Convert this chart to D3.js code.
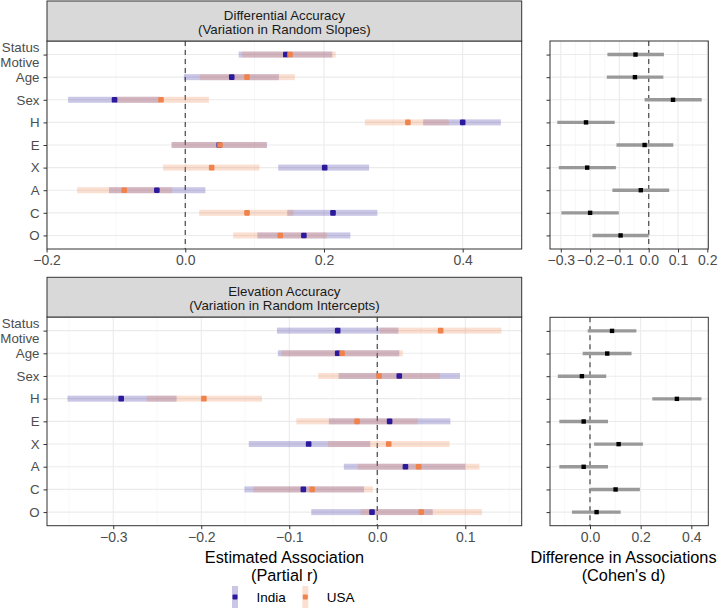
<!DOCTYPE html>
<html>
<head>
<meta charset="utf-8">
<script src="https://cdn.jsdelivr.net/npm/d3@7"></script>
<style>
  html, body { margin: 0; padding: 0; background: #fff; }
  svg { display: block; font-family: "Liberation Sans", Arial, Helvetica, sans-serif; }
</style>
</head>
<body>
<svg id="chart" width="724" height="609"></svg>
<script>
// ---------------- DATA ----------------
const categories = ["Status Motive", "Age", "Sex", "H", "E", "X", "A", "C", "O"];
const countries = ["India", "USA"];

// Differential accuracy (random slopes) – partial r
const indiaDiffEst = [0.145, 0.067, -0.102, 0.400, 0.049, 0.201, -0.041, 0.213, 0.171];
const indiaDiffLo  = [0.077, -0.002, -0.169, 0.343, -0.020, 0.134, -0.110, 0.147, 0.104];
const indiaDiffHi  = [0.212, 0.135, -0.037, 0.455, 0.118, 0.265, 0.029, 0.277, 0.238];
const usaDiffEst   = [0.151, 0.089, -0.035, 0.321, 0.050, 0.038, -0.088, 0.089, 0.137];
const usaDiffLo    = [0.082, 0.021, -0.100, 0.259, -0.019, -0.032, -0.156, 0.020, 0.069];
const usaDiffHi    = [0.217, 0.158, 0.034, 0.380, 0.117, 0.107, -0.019, 0.156, 0.204];

// Elevation accuracy (random intercepts) – partial r
const indiaElevEst = [-0.045, -0.045, 0.025, -0.291, 0.014, -0.078, 0.032, -0.084, -0.006];
const indiaElevLo  = [-0.114, -0.113, -0.044, -0.352, -0.055, -0.146, -0.038, -0.151, -0.075];
const indiaElevHi  = [0.024, 0.025, 0.094, -0.228, 0.083, -0.008, 0.100, -0.015, 0.063];
const usaElevEst   = [0.072, -0.040, 0.002, -0.197, -0.023, 0.013, 0.047, -0.074, 0.050];
const usaElevLo    = [0.003, -0.109, -0.067, -0.262, -0.092, -0.056, -0.022, -0.141, -0.019];
const usaElevHi    = [0.141, 0.029, 0.071, -0.131, 0.046, 0.082, 0.116, -0.005, 0.119];

// Difference in associations – Cohen's d
const diffD   = [-0.045, -0.047, 0.083, -0.214, -0.014, -0.210, -0.027, -0.200, -0.096];
const diffDLo = [-0.141, -0.143, -0.014, -0.312, -0.110, -0.307, -0.124, -0.298, -0.192];
const diffDHi = [0.052, 0.050, 0.181, -0.116, 0.084, -0.112, 0.070, -0.102, 0.000];
const elevD   = [0.087, 0.068, -0.032, 0.343, -0.025, 0.113, -0.025, 0.101, 0.026];
const elevDLo = [-0.009, -0.029, -0.127, 0.246, -0.121, 0.016, -0.121, 0.004, -0.071];
const elevDHi = [0.183, 0.164, 0.064, 0.440, 0.071, 0.209, 0.071, 0.197, 0.121];

// Tick labels
const diffTicks = [-0.2, 0.0, 0.2, 0.4];
const elevTicks = [-0.3, -0.2, -0.1, 0.0, 0.1];
const diffDTicks = [-0.3, -0.2, -0.1, 0.0, 0.1, 0.2];
const elevDTicks = [0.0, 0.2, 0.4];

// ---------------- LAYOUT / STYLE ----------------
const colors = { India: "#2b1a9c", USA: "#f0834b" };
const bandAlpha = 0.25;
const gridCol = "#ebebeb";
const minorCol = "#f3f3f3";
const borderCol = "#333333";
const axisTextCol = "#4d4d4d";

const svg = d3.select("#chart");

function minorBetween(ticks, domain) {
  const step = ticks[1] - ticks[0];
  const out = [];
  for (let i = -1; i < ticks.length; i++) {
    const v = (i < 0 ? ticks[0] - step / 2 : ticks[i] + step / 2);
    if (v > domain[0] && v < domain[1]) out.push(v);
  }
  return out;
}

function panel(opts) {
  const { x0, x1, y0, y1, domain, ticks, showY, strip } = opts;
  const g = svg.append("g");
  const x = d3.scaleLinear().domain(domain).range([x0, x1]);
  const y = d3.scalePoint().domain(categories).range([y0, y1]).padding(0.6);

  g.append("rect").attr("x", x0).attr("y", y0).attr("width", x1 - x0).attr("height", y1 - y0).attr("fill", "#fff");

  g.selectAll(".minor").data(minorBetween(ticks, domain)).join("line")
    .attr("x1", d => x(d)).attr("x2", d => x(d)).attr("y1", y0).attr("y2", y1)
    .attr("stroke", minorCol).attr("stroke-width", 0.6);
  g.selectAll(".majorx").data(ticks).join("line")
    .attr("x1", d => x(d)).attr("x2", d => x(d)).attr("y1", y0).attr("y2", y1)
    .attr("stroke", gridCol).attr("stroke-width", 1.1);
  g.selectAll(".majory").data(categories).join("line")
    .attr("x1", x0).attr("x2", x1).attr("y1", d => y(d)).attr("y2", d => y(d))
    .attr("stroke", gridCol).attr("stroke-width", 1.1);

  g.append("line").attr("x1", x(0)).attr("x2", x(0)).attr("y1", y0).attr("y2", y1)
    .attr("stroke", "#555").attr("stroke-width", 1.3).attr("stroke-dasharray", "5,4");

  opts.draw(g, x, y);

  g.append("rect").attr("x", x0).attr("y", y0).attr("width", x1 - x0).attr("height", y1 - y0)
    .attr("fill", "none").attr("stroke", borderCol).attr("stroke-width", 1);

  const xAxis = d3.axisBottom(x).tickValues(ticks).tickSize(3.5).tickPadding(3)
    .tickFormat(d => d3.format(".1f")(d).replace("-", "\u2212"));
  const ax = g.append("g").attr("transform", `translate(0,${y1})`).call(xAxis);
  ax.select(".domain").remove();
  ax.selectAll(".tick line").attr("stroke", borderCol);
  ax.selectAll(".tick text").attr("fill", axisTextCol).attr("font-size", 14).attr("font-family", null);

  const yAxis = d3.axisLeft(y).tickSize(3.5).tickPadding(4).tickFormat(showY ? (d => d) : () => "");
  const ay = g.append("g").attr("transform", `translate(${x0},0)`).call(yAxis);
  ay.select(".domain").remove();
  ay.selectAll(".tick line").attr("stroke", borderCol);
  ay.selectAll(".tick text").attr("fill", axisTextCol).attr("font-size", 13.3).attr("font-family", null);
  if (showY) {
    ay.selectAll(".tick text").each(function(d) {
      const parts = d.split(" ");
      if (parts.length > 1) {
        const t = d3.select(this).text(null).attr("dy", null);
        parts.forEach((p, i) => {
          t.append("tspan").attr("x", -7.5).attr("dy", i === 0 ? "-0.2em" : "1.1em").text(p);
        });
      }
    });
  }

  if (strip) {
    const sy0 = strip.y0;
    g.append("rect").attr("x", x0).attr("y", sy0).attr("width", x1 - x0).attr("height", y0 - sy0)
      .attr("fill", "#d9d9d9").attr("stroke", borderCol).attr("stroke-width", 1);
    const st = g.append("text").attr("x", (x0 + x1) / 2).attr("text-anchor", "middle")
      .attr("font-size", 13.3).attr("fill", "#1a1a1a");
    strip.lines.forEach((l, i) => {
      st.append("tspan").attr("x", (x0 + x1) / 2).attr("y", sy0 + 18.5 + i * 14.5).text(l);
    });
  }
  return { x, y };
}

function drawCountries(series) {
  return function(g, x, y) {
    series.forEach(s => {
      g.selectAll(null).data(categories).join("rect")
        .attr("x", (d, i) => x(s.lo[i])).attr("width", (d, i) => x(s.hi[i]) - x(s.lo[i]))
        .attr("y", d => y(d) - 3).attr("height", 6)
        .attr("fill", colors[s.name]).attr("fill-opacity", bandAlpha);
    });
    series.forEach(s => {
      g.selectAll(null).data(categories).join("rect")
        .attr("x", (d, i) => x(s.est[i]) - 2.8).attr("y", d => y(d) - 2.8)
        .attr("width", 5.6).attr("height", 5.6).attr("rx", 1.2)
        .attr("fill", colors[s.name]);
    });
  };
}

function drawDiff(est, lo, hi) {
  return function(g, x, y) {
    g.selectAll(null).data(categories).join("line")
      .attr("x1", (d, i) => x(lo[i])).attr("x2", (d, i) => x(hi[i]))
      .attr("y1", d => y(d)).attr("y2", d => y(d))
      .attr("stroke", "#999").attr("stroke-width", 3.4);
    g.selectAll(null).data(categories).join("rect")
      .attr("x", (d, i) => x(est[i]) - 2.2).attr("y", d => y(d) - 2.2)
      .attr("width", 4.4).attr("height", 4.4).attr("fill", "#000");
  };
}

panel({
  x0: 47, x1: 521.7, y0: 41, y1: 249, domain: [-0.1994, 0.4851], ticks: diffTicks, showY: true,
  strip: { y0: 1, lines: ["Differential Accuracy", "(Variation in Random Slopes)"] },
  draw: drawCountries([
    { name: "India", est: indiaDiffEst, lo: indiaDiffLo, hi: indiaDiffHi },
    { name: "USA", est: usaDiffEst, lo: usaDiffLo, hi: usaDiffHi }
  ])
});
panel({
  x0: 47, x1: 521.7, y0: 317, y1: 525.7, domain: [-0.3753, 0.1641], ticks: elevTicks, showY: true,
  strip: { y0: 277.3, lines: ["Elevation Accuracy", "(Variation in Random Intercepts)"] },
  draw: drawCountries([
    { name: "India", est: indiaElevEst, lo: indiaElevLo, hi: indiaElevHi },
    { name: "USA", est: usaElevEst, lo: usaElevLo, hi: usaElevHi }
  ])
});
panel({
  x0: 550, x1: 708.3, y0: 41, y1: 249, domain: [-0.3369, 0.2034], ticks: diffDTicks, showY: false,
  draw: drawDiff(diffD, diffDLo, diffDHi)
});
panel({
  x0: 550, x1: 708.3, y0: 317.3, y1: 525.7, domain: [-0.1579, 0.467], ticks: elevDTicks, showY: false,
  draw: drawDiff(elevD, elevDLo, elevDHi)
});

const t1 = svg.append("text").attr("text-anchor", "middle").attr("font-size", 16.3).attr("fill", "#000");
t1.append("tspan").attr("x", 284.5).attr("y", 562.5).text("Estimated Association");
t1.append("tspan").attr("x", 284.5).attr("y", 581).text("(Partial r)");
const t2 = svg.append("text").attr("text-anchor", "middle").attr("font-size", 16.3).attr("fill", "#000");
t2.append("tspan").attr("x", 623.5).attr("y", 562.5).text("Difference in Associations");
t2.append("tspan").attr("x", 623.5).attr("y", 581).text("(Cohen's d)");

const legendX = [235, 305.3];
const lg = svg.append("g");
countries.forEach((c, i) => {
  const cx = legendX[i], cy = 597;
  lg.append("rect").attr("x", cx - 3).attr("y", cy - 11).attr("width", 6).attr("height", 22)
    .attr("fill", colors[c]).attr("fill-opacity", bandAlpha);
  lg.append("rect").attr("x", cx - 2.5).attr("y", cy - 2.5).attr("width", 5).attr("height", 5).attr("rx", 1)
    .attr("fill", colors[c]);
  lg.append("text").attr("x", cx + 21.5).attr("y", cy + 5).attr("font-size", 13.5).attr("fill", "#000").text(c);
});
</script>
</body>
</html>
